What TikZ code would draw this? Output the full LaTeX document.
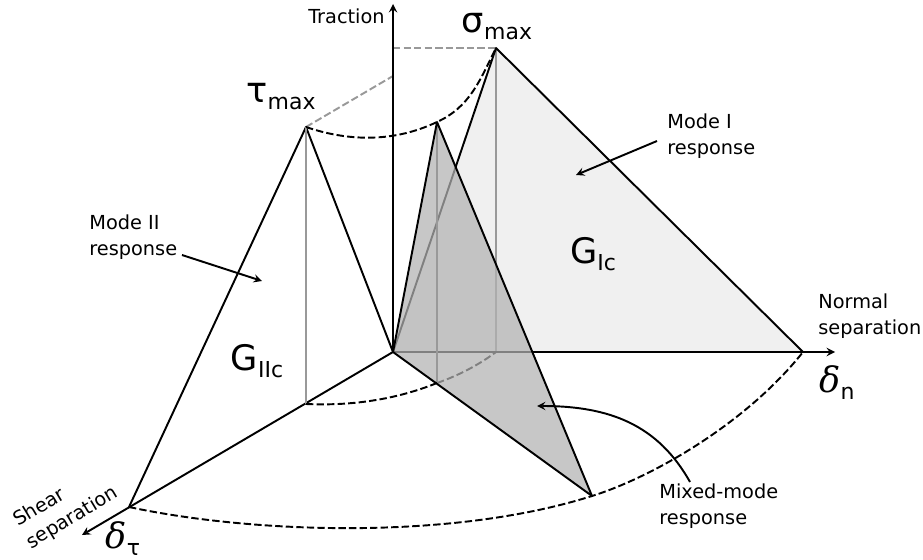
\documentclass[tikz,border=0pt]{standalone}
\usepackage{fontspec}
\setmainfont{DejaVu Sans}
\newfontfamily\deltafont{DejaVu Serif}
\usetikzlibrary{calc}
\newcommand{\smalltxt}{\fontsize{11}{14.7}\selectfont}
\newcommand{\bigsub}[2]{\fontsize{20}{22}\selectfont #1\raisebox{-4pt}{\fontsize{12.5}{14}\selectfont #2}}
\tikzset{
	axisline/.style={->, >=stealth, line width=1.1pt},
	edgeline/.style={line width=1.1pt, line join=round},
	guideline/.style={line width=1.1pt, color=black!40},
	arcline/.style={line width=1.1pt, dash pattern=on 4.2pt off 1.8pt},
	noteline/.style={->, >=stealth, line width=1.1pt},
	smalllabel/.style={align=left, inner sep=0pt, font=\smalltxt},
}
\begin{document}
\begin{tikzpicture}[x=0.02cm, y=-0.02cm]

	\useasboundingbox (0,0) rectangle (923,560);

	% define point

	\coordinate (O)  at (393, 352);

	\coordinate (Ttop)  at (393, 4);

	\coordinate (Ttau)  at (393, 76);

	\coordinate (Tsig)  at (393, 48);

	\coordinate (Nend)  at (835, 352);

	\coordinate (Send)  at (82, 535);

	\coordinate (Sig)  at (496, 48);

	\coordinate (SigB)  at (496, 352);

	\coordinate (Nmax)  at (803, 352);

	\coordinate (Tau)  at (306, 127);

	\coordinate (TauB)  at (306, 404);

	\coordinate (Smax)  at (129, 507);

	\coordinate (Mix)  at (437, 122);

	\coordinate (MixB)  at (437, 383);

	\coordinate (Mmax)  at (592, 496);

	% mode I triangle

	\fill[black!6] (O) -- (Sig) -- (Nmax) -- cycle;

	% guide lines

	\draw[guideline] (Sig) -- (SigB);

	\draw[guideline, dash pattern=on 4.2pt off 1.8pt] (Tsig) -- (Sig);

	\draw[guideline, dash pattern=on 4.2pt off 1.8pt] (Tau) -- (Ttau);

	% axes

	\draw[axisline] (O) -- (Ttop);

	\draw[axisline] (O) -- (Nend);

	\draw[axisline] (O) -- (Send);

	% mode I and mode II edges

	\draw[edgeline] (O) -- (Sig) -- (Nmax);

	\draw[edgeline] (O) -- (Tau) -- (Smax);

	% arc under the mixed-mode triangle

	\draw[arcline] (MixB) .. controls (460,375) and (480,364) .. (SigB);

	% mixed-mode triangle

	\fill[black!30, opacity=0.72] (O) -- (Mix) -- (Mmax) -- cycle;

	\draw[guideline] (Mix) -- (MixB);

	\draw[guideline] (Tau) -- (TauB);

	\draw[edgeline] (O) -- (Mix) -- (Mmax) -- (O);

	% arcs

	\draw[arcline] (Tau) .. controls (350,142) and (395,142) .. (Mix) .. controls (470,107) and (480,80) .. (Sig);

	\draw[arcline] (TauB) .. controls (350,406) and (395,400) .. (MixB);

	\draw[arcline] (Smax) .. controls (250,533) and (450,541) .. (Mmax) .. controls (650,478) and (745,425) .. (Nmax);

	% labels

	\node[smalllabel, anchor=east] (traction) at (385,16) {Traction};

	\node[inner sep=0pt] (sigmax) at (497,27) {\bigsub{σ}{max}};

	\node[inner sep=0pt] (taumax) at (281,97) {\bigsub{τ}{max}};

	\node[inner sep=0pt] (gic) at (593,254) {\bigsub{G}{Ic}};

	\node[inner sep=0pt] (giic) at (257,361) {\bigsub{G}{IIc}};

	\node[inner sep=0pt] (deln) at (837,383) {\bigsub{{\deltafont\itshape δ}}{n}};

	\node[inner sep=0pt] (delt) at (123,539) {\bigsub{{\deltafont\itshape δ}}{τ}};

	\node[smalllabel, anchor=west] (normal) at (818,316) {Normal\\separation};

	\node[smalllabel, rotate=31] (shear) at (66,507) {Shear\\separation};

	\node[smalllabel, anchor=west] (modei) at (667,136) {Mode I\\response};

	\node[smalllabel, anchor=west] (modeii) at (89,237) {Mode II\\response};

	\node[smalllabel, anchor=west] (mixed) at (659,506) {Mixed-mode\\response};

	% pointers

	\coordinate (modeitip)  at (576, 175);

	\coordinate (modeiitip)  at (262, 281);

	\coordinate (mixedtip)  at (537, 406);

	\draw[noteline] (657,141) -- (modeitip);

	\draw[noteline] (182,255) -- (modeiitip);

	\draw[noteline] (690,482) .. controls (658,425) and (610,406) .. (mixedtip);

\end{tikzpicture}
\end{document}
